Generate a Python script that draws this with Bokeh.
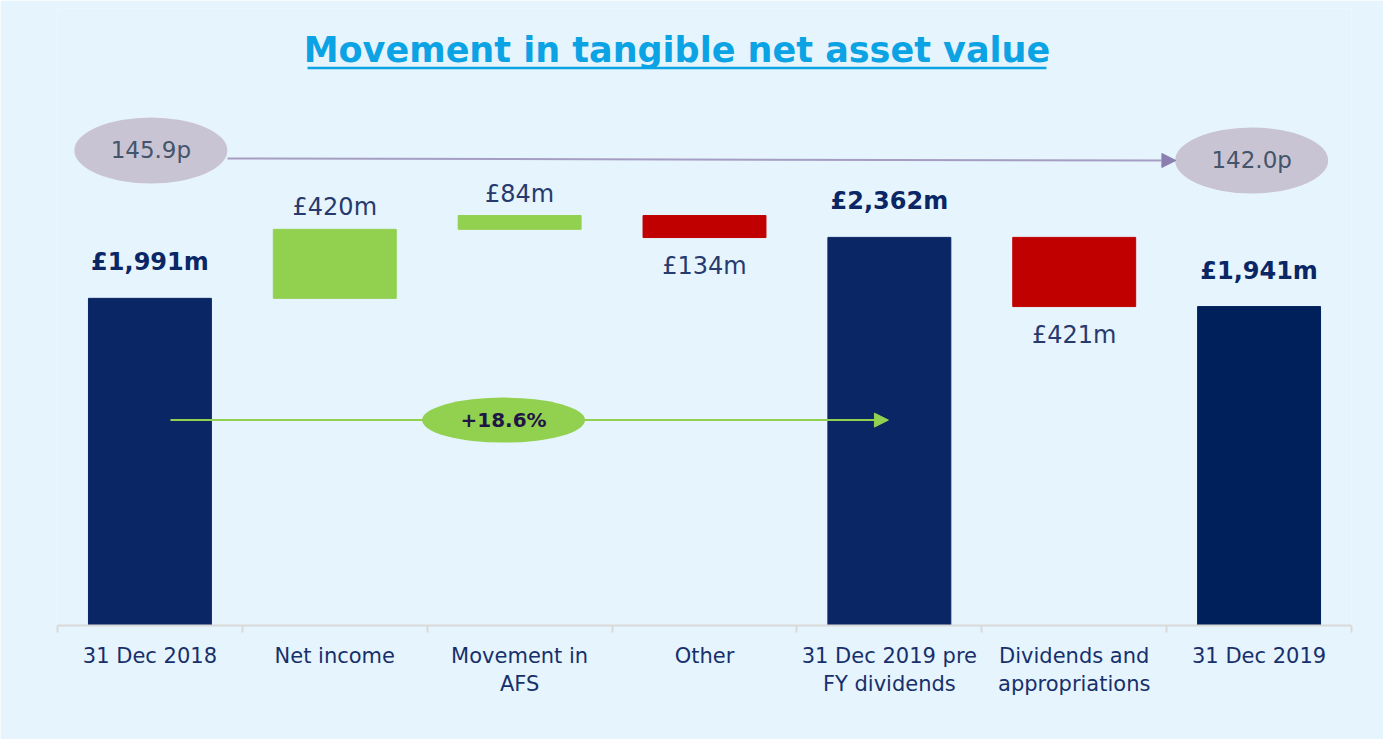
from bokeh.plotting import figure
from bokeh.models import Range1d, FixedTicker, Arrow, NormalHead, ColumnDataSource
from bokeh.core.properties import value
from bokeh.embed import file_html
from bokeh.resources import INLINE

# ---- data ----
categories = ["31 Dec 2018", "Net income", "Movement in\nAFS", "Other",
              "31 Dec 2019 pre\nFY dividends", "Dividends and\nappropriations", "31 Dec 2019"]
values = [1991, 420, 84, -134, 2362, -421, 1941]
is_total = [True, False, False, False, True, False, True]
value_labels = ["£1,991m", "£420m", "£84m", "£134m", "£2,362m", "£421m", "£1,941m"]
nav_start_label = "145.9p"
nav_end_label = "142.0p"
growth_label = "+18.6%"
title_text = "Movement in tangible net asset value"

FONT = "DejaVu Sans"
BG = "#E6F4FD"
NAVY = "#0A2665"

# waterfall geometry from values
bottoms, tops = [], []
running = 0
for v, tot in zip(values, is_total):
    if tot:
        bottoms.append(0)
        tops.append(v)
        running = v
    else:
        new = running + v
        bottoms.append(min(running, new))
        tops.append(max(running, new))
        running = new

xs = [i + 0.5 for i in range(len(categories))]
colors = []
for i, (v, tot) in enumerate(zip(values, is_total)):
    if tot:
        colors.append("#00205B" if i == len(values) - 1 else NAVY)
    else:
        colors.append("#92D050" if v > 0 else "#C00000")

p = figure(frame_width=1294, frame_height=617, output_backend="svg", toolbar_location=None,
           x_range=Range1d(0, 7), y_range=Range1d(0, 3755),
           min_border_left=57, min_border_right=32, min_border_top=8, min_border_bottom=114)
p.background_fill_color = BG
p.border_fill_color = BG
p.outline_line_color = None
p.grid.visible = False
p.yaxis.visible = False

src = ColumnDataSource(dict(x=xs, top=tops, bottom=bottoms, color=colors))
p.vbar(x="x", top="top", bottom="bottom", width=0.665, color="color", source=src)

# axis
ax = p.xaxis[0]
ax.ticker = FixedTicker(ticks=xs, minor_ticks=list(range(len(categories) + 1)))
ax.major_label_overrides = {x: c for x, c in zip(xs, categories)}
ax.major_tick_line_color = None
ax.minor_tick_line_color = "#D9D9D9"
ax.minor_tick_line_width = 2
ax.minor_tick_in = 0
ax.minor_tick_out = 7
ax.axis_line_color = "#D9D9D9"
ax.axis_line_width = 2
ax.major_label_standoff = 11
ax.major_label_text_font = FONT
ax.major_label_text_font_size = "21px"
ax.major_label_text_color = "#17306B"

# value labels
bx, by, bt = [], [], []
nx, ny, nt = [], [], []
ux, uy, ut = [], [], []
for i, (v, tot) in enumerate(zip(values, is_total)):
    if tot:
        bx.append(xs[i]); by.append(tops[i]); bt.append(value_labels[i])
    elif v > 0:
        nx.append(xs[i]); ny.append(tops[i]); nt.append(value_labels[i])
    else:
        ux.append(xs[i]); uy.append(bottoms[i]); ut.append(value_labels[i])

p.text(x=bx, y=by, text=bt, y_offset=-36, text_align="center", text_baseline="middle",
       text_font=value(FONT), text_font_style="bold", text_font_size="24px", text_color=NAVY)
p.text(x=nx, y=ny, text=nt, y_offset=-22, text_align="center", text_baseline="middle",
       text_font=value(FONT), text_font_size="24px", text_color="#273A6E")
p.text(x=ux, y=uy, text=ut, y_offset=28, text_align="center", text_baseline="middle",
       text_font=value(FONT), text_font_size="24px", text_color="#273A6E")

# NAV per share arrow and ellipses
nav_y0, nav_y1 = 2842, 2830
p.add_layout(Arrow(end=NormalHead(size=14, fill_color="#8B7FAF", line_color="#8B7FAF"),
                   x_start=0.92, y_start=nav_y0, x_end=6.05, y_end=nav_y1,
                   line_color="#A59DC2", line_width=2))
p.ellipse(x=[xs[0] + 0.005, 6.46], y=[2891, 2830], width=153, height=66,
          width_units="screen", height_units="screen", fill_color="#C9C4D4", line_color=None)
p.text(x=[xs[0] + 0.005, 6.46], y=[2891, 2830], text=[nav_start_label, nav_end_label],
       text_align="center", text_baseline="middle", text_font=value(FONT),
       text_font_size="23px", text_color="#44546A")

# growth arrow (line as glyph so the ellipse sits on top; head as annotation)
g_y = 1250
p.segment(x0=[0.611], x1=[4.45], y0=[g_y], y1=[g_y], line_color="#92D050", line_width=2)
p.add_layout(Arrow(end=NormalHead(size=14, fill_color="#92D050", line_color="#92D050"),
                   x_start=4.3, y_start=g_y, x_end=4.495, y_end=g_y,
                   line_color="#92D050", line_width=2))
p.ellipse(x=[2.413], y=[g_y], width=163, height=45, width_units="screen", height_units="screen",
          fill_color="#92D050", line_color=None)
p.text(x=[2.413], y=[g_y], text=[growth_label], text_align="center", text_baseline="middle",
       text_font=value(FONT), text_font_style="bold", text_font_size="20px", text_color="#1F1646")

# title with underline
p.text(x=[3.351], y=[3500], text=[title_text], text_align="center", text_baseline="middle",
       text_font=value(FONT), text_font_style="bold", text_font_size="35px", text_color="#0BA3E4")
p.segment(x0=[(307 - 57) / 184.86], x1=[(1046 - 57) / 184.86], y0=[3393], y1=[3393],
          line_color="#0BA3E4", line_width=2.5)

open("out.html", "w").write(file_html(p, INLINE))
